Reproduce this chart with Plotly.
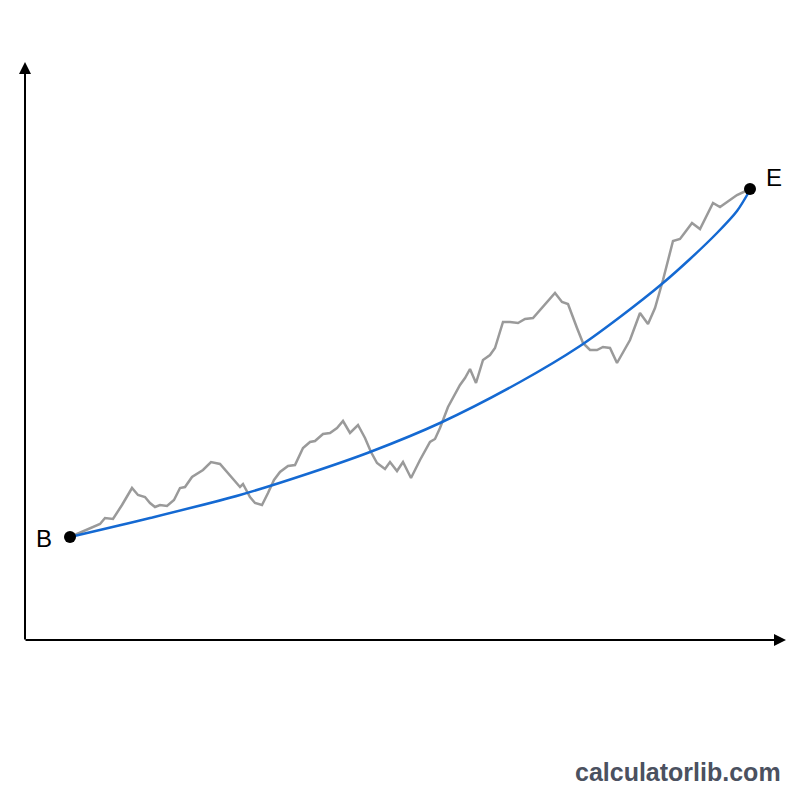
import plotly.graph_objects as go

# Coordinate frame: x = time units, y = value units (0..800 box, schematic chart)
walk_x = [70, 90, 100, 105, 113, 122, 132, 138, 145, 150, 155, 160, 167, 174, 180, 185, 192, 203, 211, 220,
          230, 240, 243, 250, 255, 262, 268, 274, 280, 288, 295, 303, 310, 315, 323, 330, 337, 343, 350, 358,
          365, 371, 377, 385, 390, 397, 403, 411, 420, 430, 435, 440, 448, 455, 460, 465, 470, 476, 483, 490,
          495, 503, 510, 518, 525, 533, 543, 555, 562, 568, 577, 583, 590, 597, 603, 610, 617, 623, 630, 640,
          648, 655, 663, 673, 680, 686, 692, 700, 707, 713, 720, 728, 737, 750]
walk_y = [537, 528, 524, 518, 519, 505, 488, 495, 497, 503, 507, 505, 506, 500, 488, 487, 477, 470, 462, 464,
          475, 487, 484, 497, 503, 505, 493, 480, 472, 466, 465, 448, 442, 441, 434, 433, 428, 421, 433, 425,
          438, 452, 463, 469, 462, 471, 462, 478, 460, 442, 439, 428, 407, 395, 385, 378, 369, 383, 360, 355,
          348, 322, 322, 323, 319, 318, 307, 293, 302, 304, 328, 343, 350, 350, 347, 348, 363, 352, 340, 313,
          324, 308, 280, 241, 239, 231, 223, 229, 215, 203, 207, 201, 195, 189]

trend_x = [70, 150, 240, 310, 370, 440, 520, 580, 620, 663, 690, 717, 737, 750]
trend_y = [537, 518, 495, 473, 452, 423, 382, 346, 317, 283, 259, 233, 211, 190]

endpoint_x = [70, 750]
endpoint_y = [537, 189]
endpoint_labels = ["B", "E"]

H = 800
fig = go.Figure()
fig.add_trace(go.Scatter(x=walk_x, y=[H - v for v in walk_y], mode="lines",
                         line=dict(color="#9a9a9a", width=2.5), hoverinfo="skip"))
fig.add_trace(go.Scatter(x=trend_x, y=[H - v for v in trend_y], mode="lines",
                         line=dict(color="#1469d2", width=2.5, shape="spline", smoothing=0.8),
                         hoverinfo="skip"))
fig.add_trace(go.Scatter(x=endpoint_x, y=[H - v for v in endpoint_y], mode="markers",
                         marker=dict(color="black", size=12), hoverinfo="skip"))

annos = []
# axes with arrowheads
annos.append(dict(x=25, y=H - 62, ax=25, ay=H - 641, xref="x", yref="y", axref="x", ayref="y",
                  showarrow=True, arrowhead=2, arrowsize=1.2, arrowwidth=2, arrowcolor="black", text=""))
annos.append(dict(x=786, y=H - 640, ax=24, ay=H - 640, xref="x", yref="y", axref="x", ayref="y",
                  showarrow=True, arrowhead=2, arrowsize=1.2, arrowwidth=2, arrowcolor="black", text=""))
# endpoint labels
annos.append(dict(x=endpoint_x[0] - 16, y=H - endpoint_y[0] - 1, text=endpoint_labels[0], showarrow=False,
                  xanchor="right", yanchor="middle", font=dict(size=24, color="black", family="Liberation Sans")))
annos.append(dict(x=endpoint_x[1] + 14, y=H - endpoint_y[1] + 12, text=endpoint_labels[1], showarrow=False,
                  xanchor="left", yanchor="middle", font=dict(size=24, color="black", family="Liberation Sans")))
# watermark
annos.append(dict(x=783, y=H - 772, text="<b>calculatorlib.com</b>", showarrow=False,
                  xanchor="right", yanchor="middle", font=dict(size=25, color="#4b5160", family="Liberation Sans")))

fig.update_layout(
    width=800, height=800, margin=dict(l=0, r=0, t=0, b=0),
    paper_bgcolor="white", plot_bgcolor="white", showlegend=False,
    xaxis=dict(range=[0, 800], visible=False, fixedrange=True),
    yaxis=dict(range=[0, 800], visible=False, fixedrange=True),
    annotations=annos,
)
fig.write_html("out.html")
